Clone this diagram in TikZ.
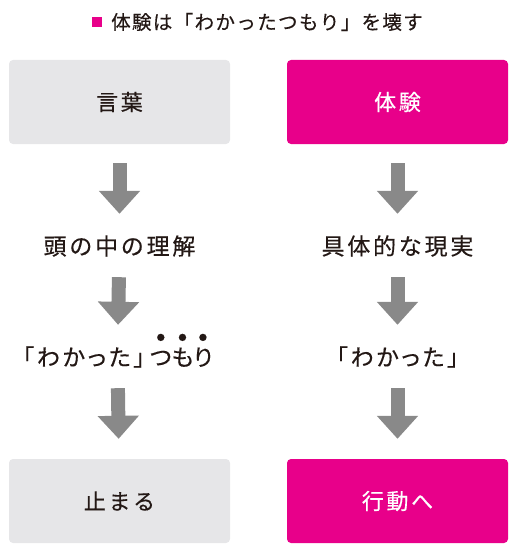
\documentclass[tikz,border=0pt]{standalone}
\usepackage{fontspec}
\newfontfamily\jpfont[LetterSpace=12,FakeBold=0.4]{Noto Sans CJK JP}
\newfontfamily\jpprop[LetterSpace=12,FakeBold=0.4,RawFeature=+palt]{Noto Sans CJK JP}
\newfontfamily\jptitle[LetterSpace=7,FakeBold=0.4]{Noto Sans CJK JP}
\usetikzlibrary{arrows.meta}
\definecolor{mymagenta}{RGB}{232,0,138}
\definecolor{mygray}{RGB}{230,230,232}
\definecolor{arrowgray}{RGB}{137,137,137}
\definecolor{ink}{RGB}{35,24,21}
\newcommand{\bouten}[1]{\setbox0=\hbox{#1}\rlap{\hbox to\wd0{\hss\smash{\raisebox{1.1em}{\fontsize{8}{8}\selectfont ●}}\hss}}\box0}

\begin{document}
\begin{tikzpicture}[x=1pt,y=-1pt,
  box/.style={rounded corners=4pt, minimum width=221pt, minimum height=84pt,
    inner sep=0pt, font=\jpfont\fontsize{22}{22}\selectfont},
  word/.style={box, fill=mygray, text=ink},
  deed/.style={box, fill=mymagenta, text=white},
  stage/.style={inner sep=0pt, minimum height=24pt, text=ink,
    font=\jpfont\fontsize{23}{23}\selectfont},
  quoted/.style={stage, font=\jpprop\fontsize{23}{23}\selectfont},
  fatarrow/.style={draw=arrowgray, line width=14pt, shorten <=19pt, shorten >=20pt,
    -{Triangle[width=40pt,length=23pt]}}
]
\useasboundingbox (0,0) rectangle (518,551);

% title
\fill[mymagenta] (92,17) rectangle (102,27);
\node[anchor=west, inner sep=0pt, text=ink, font=\jptitle\fontsize{19.5}{19.5}\selectfont]
  (title) at (111,22) {体験は「わかったつもり」を壊す};

% left column
\node[word] (kotoba) at (119.5,102) {言葉};
\node[stage] (rikai) at (119.5,246) {頭の中の理解};
\node[quoted] (tsumori) at (117.5,357) {「わかった」\kern5pt\bouten{つ}\bouten{も}\bouten{り}};
\node[word] (tomaru) at (119.5,501) {止まる};

% right column
\node[deed] (taiken) at (397.5,102) {体験};
\node[stage] (genjitsu) at (397.5,246) {具体的な現実};
\node[quoted] (wakatta) at (397.5,357) {「わかった」};
\node[deed] (koudou) at (397.5,501) {行動へ};

\draw[fatarrow] (kotoba) -- (rikai);
\draw[fatarrow] (rikai) -- (tsumori);
\draw[fatarrow] (tsumori) -- (tomaru);
\draw[fatarrow] (taiken) -- (genjitsu);
\draw[fatarrow] (genjitsu) -- (wakatta);
\draw[fatarrow] (wakatta) -- (koudou);
\end{tikzpicture}
\end{document}
